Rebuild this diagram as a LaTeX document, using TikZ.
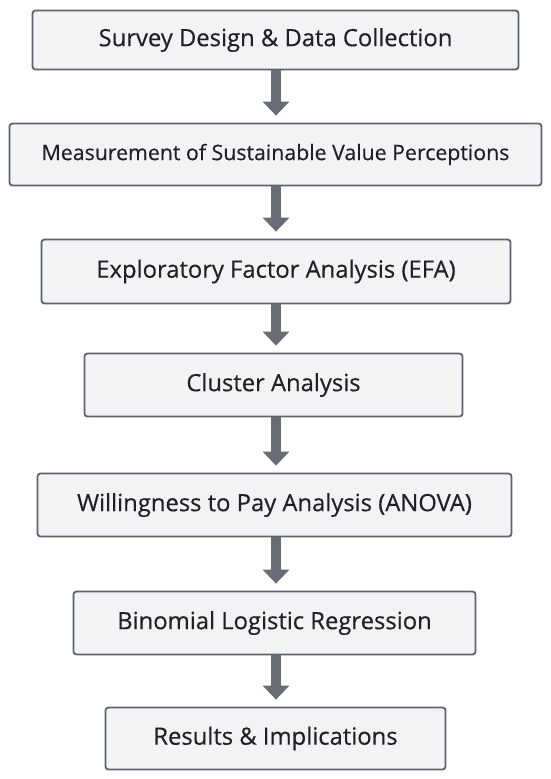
\documentclass[tikz,border=0pt]{standalone}
\usepackage{fontspec}
\setmainfont{Open Sans}
\newfontfamily\boxfont{Open Sans}[FakeBold=0.35]
\usetikzlibrary{arrows.meta}
\definecolor{boxfill}{HTML}{F2F3F5}
\definecolor{boxline}{HTML}{5F636B}
\definecolor{arrcol}{HTML}{686C74}
\definecolor{txtcol}{HTML}{1E2126}
\begin{document}
\begin{tikzpicture}[x=1pt,y=-1pt,
  stepbox/.style={draw=boxline, line width=1.8pt, fill=boxfill, rounded corners=3pt,
    inner sep=0pt, text=txtcol, font=\boxfont\fontsize{23.8}{28}\selectfont},
  smalltext/.style={font=\boxfont\fontsize{21.3}{26}\selectfont},
  flowarrow/.style={draw=arrcol, line width=10pt,
    -{Triangle[width=26pt,length=14pt]}, shorten >=7pt}]
\useasboundingbox[fill=white] (0,0) rectangle (550,779);
\coordinate (ax) at (276,0);
\node[stepbox, minimum width=486pt, minimum height=59pt] (s1) at (275.5,40) {Survey Design \& Data Collection};
\node[stepbox, smalltext, minimum width=532pt, minimum height=62pt] (s2) at (275.5,154.5) {Measurement of Sustainable Value Perceptions};
\node[stepbox, minimum width=469pt, minimum height=64pt] (s3) at (276,271.5) {Exploratory Factor Analysis (EFA)};
\node[stepbox, minimum width=378pt, minimum height=63pt] (s4) at (273.5,385) {Cluster Analysis};
\node[stepbox, minimum width=474pt, minimum height=63pt] (s5) at (274.5,505) {Willingness to Pay Analysis (ANOVA)};
\node[stepbox, minimum width=402pt, minimum height=63pt] (s6) at (274.5,623) {Binomial Logistic Regression};
\node[stepbox, minimum width=340pt, minimum height=62pt] (s7) at (275.5,738.5) {Results \& Implications};
\draw[flowarrow] (s1.south -| ax) -- (s2.north -| ax);
\draw[flowarrow] (s2.south -| ax) -- (s3.north -| ax);
\draw[flowarrow] (s3.south -| ax) -- (s4.north -| ax);
\draw[flowarrow] (s4.south -| ax) -- (s5.north -| ax);
\draw[flowarrow] (s5.south -| ax) -- (s6.north -| ax);
\draw[flowarrow] (s6.south -| ax) -- (s7.north -| ax);
\end{tikzpicture}
\end{document}
